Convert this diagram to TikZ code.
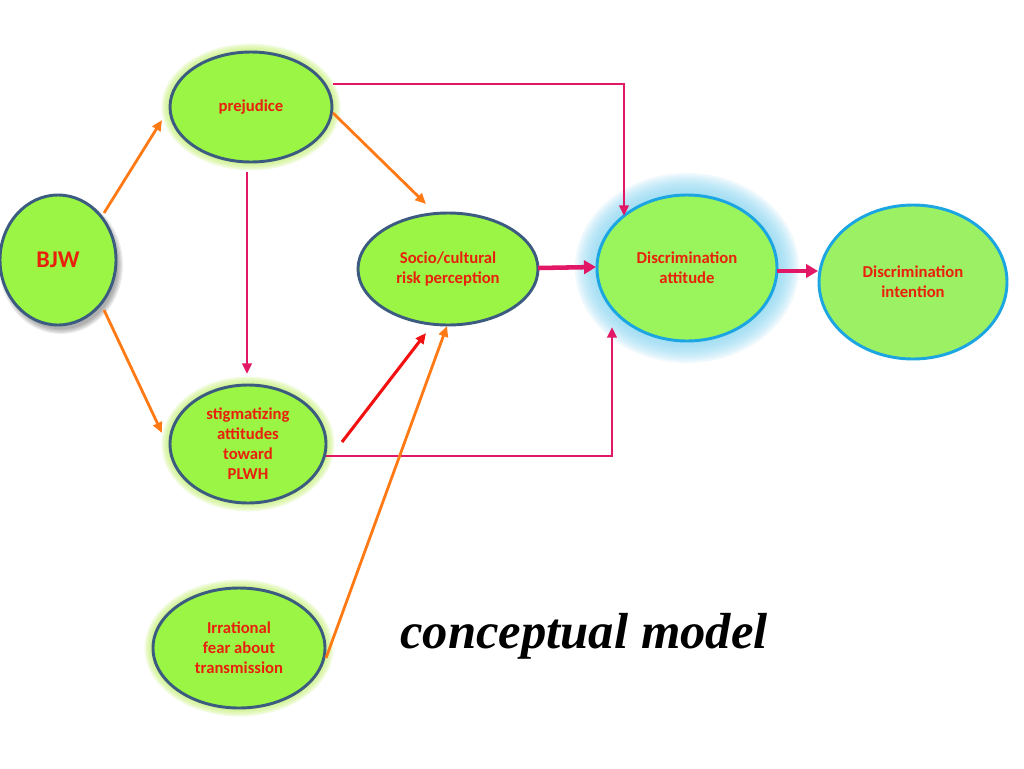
\documentclass[tikz,border=0pt]{standalone}
\usepackage{fontspec}
\setmainfont{Carlito}
\newfontfamily\titlefont{Liberation Serif}
\usetikzlibrary{shapes.geometric,arrows.meta,calc,backgrounds}
\definecolor{nodefill}{HTML}{9BF545}
\definecolor{intfill}{HTML}{9CF064}
\definecolor{attfill}{HTML}{9AF45C}
\definecolor{edgeslate}{HTML}{3B5C80}
\definecolor{edgeblue}{HTML}{1BA6E2}
\definecolor{txtred}{HTML}{E8200C}
\definecolor{arrorange}{HTML}{FF7A14}
\definecolor{arrcrimson}{HTML}{E21866}
\definecolor{arrred}{HTML}{F21010}
\definecolor{glowgreen}{HTML}{C8F27A}
\definecolor{glowblue}{HTML}{8FD8F4}
\tikzset{
  ell/.style={ellipse, draw=edgeslate, line width=2.2pt, fill=nodefill, inner sep=0pt,
    align=center, text=txtred, font=\bfseries\fontsize{12.5}{15}\selectfont},
  blueell/.style={ell, draw=edgeblue},
  tipthin/.style={-{Triangle[length=8pt,width=7pt]}},
  orangearrow/.style={draw=arrorange, line width=2.1pt, tipthin},
  crimsonarrow/.style={draw=arrcrimson, line width=2.1pt, tipthin},
  redarrow/.style={draw=arrred, line width=2.3pt, tipthin},
  thickarrow/.style={draw=arrcrimson, line width=3.4pt, -{Triangle[length=9pt,width=10pt]}}
}
\begin{document}
\begin{tikzpicture}[x=0.75pt,y=-0.75pt]
\useasboundingbox (0,0) rectangle (1024,768);

% nodes
\node[ell, minimum width=87pt, minimum height=97.5pt, font=\bfseries\fontsize{18}{20}\selectfont] (bjw) at (58,260) {\raisebox{-1.5pt}{BJW}};
\node[ell, minimum width=121.5pt, minimum height=82.5pt] (prej) at (251,107) {\raisebox{-1.5pt}{prejudice}};
\node[ell, minimum width=135pt, minimum height=84pt] (socio) at (448,269) {Socio/cultural\\risk perception};
\node[blueell, fill=attfill, minimum width=135pt, minimum height=109.5pt] (att) at (687,268) {Discrimination\\attitude};
\node[blueell, fill=intfill, minimum width=141pt, minimum height=115.5pt] (int) at (913,282) {Discrimination\\intention};
\node[ell, minimum width=117pt, minimum height=88.5pt] (stig) at (248,444) {stigmatizing\\attitudes\\toward\\PLWH};
\node[ell, minimum width=129pt, minimum height=90pt] (irr) at (239,648) {Irrational\\fear about\\transmission};

\node[anchor=base, font=\titlefont\bfseries\itshape\fontsize{38}{40}\selectfont] (title) at (584,648) {conceptual model};

% glows and shadow
\begin{scope}[on background layer]
  \fill[white] (0,0) rectangle (1024,768);
  \foreach \n/\rx/\ry in {prej/81/55, stig/78/59, irr/86/60} {
    \foreach \i in {1,...,6} {
      \pgfmathsetmacro\ax{(\rx+\i*1.4)*0.75}
      \pgfmathsetmacro\ay{(\ry+\i*1.4)*0.75}
      \fill[glowgreen, opacity=0.22] (\n.center) ellipse [x radius=\ax pt, y radius=\ay pt];
    }
  }
  \foreach \i in {1,...,10} {
    \pgfmathsetmacro\ax{(90+\i*2.2)*0.75}
    \pgfmathsetmacro\ay{(73+\i*2.2)*0.75}
    \fill[glowblue, opacity=0.14] (att.center) ellipse [x radius=\ax pt, y radius=\ay pt];
  }
  \foreach \i in {1,...,5} {
    \pgfmathsetmacro\ax{(56+\i*1.2)*0.75}
    \pgfmathsetmacro\ay{(63+\i*1.2)*0.75}
    \fill[black, opacity=0.07] ($(bjw.center)+(3,5)$) ellipse [x radius=\ax pt, y radius=\ay pt];
  }
\end{scope}

% connectors
\draw[orangearrow] ($(bjw.center)+(46,-47)$) -- ($(prej.center)+(-89,13)$);
\draw[orangearrow] ($(bjw.center)+(46,50)$) -- ($(stig.center)+(-86,-11)$);
\draw[orangearrow] ($(prej.center)+(82,6)$) -- ($(socio.center)+(-22,-65)$);
\draw[crimsonarrow] ($(prej.center)+(-4,65)$) -- ($(stig.center)+(-1,-70)$);
\draw[crimsonarrow] ($(prej.center)+(82,-23)$) -| ($(att.center)+(-63,-52)$);
\draw[thickarrow] ($(socio.center)+(90,-1)$) -- ($(att.center)+(-91,-1)$);
\draw[thickarrow] ($(att.center)+(90,3)$) -- ($(int.center)+(-95,-11)$);
\draw[crimsonarrow] ($(stig.center)+(78,12)$) -| ($(att.center)+(-75,59)$);
\draw[redarrow] ($(stig.center)+(94,-2)$) -- ($(socio.center)+(-22,64)$);
\draw[orangearrow] ($(irr.center)+(87,10)$) -- ($(socio.center)+(-1,57)$);
\end{tikzpicture}
\end{document}
